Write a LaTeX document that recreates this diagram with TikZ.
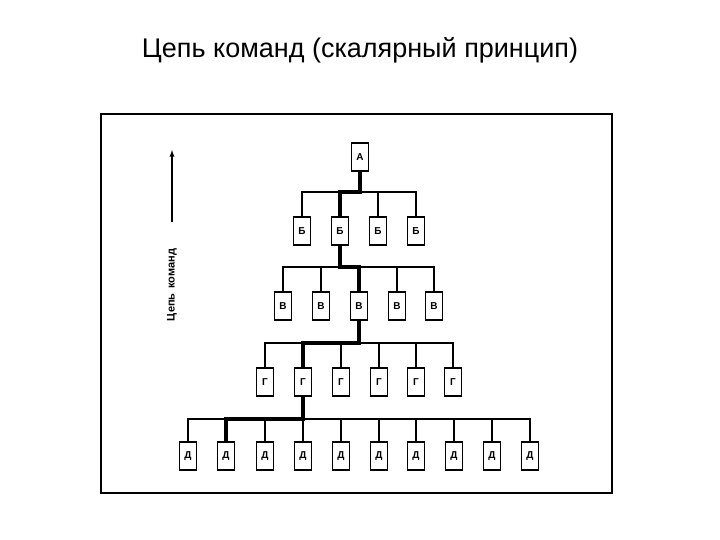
\documentclass[tikz,border=0pt]{standalone}
\usepackage{fontspec}
\setmainfont{Liberation Sans}
\begin{document}
\begin{tikzpicture}[x=1pt,y=-1pt,
  bx/.style={draw,line width=1.6pt,minimum width=17pt,minimum height=28pt,inner sep=0pt,font=\bfseries\fontsize{10}{11}\selectfont},
  ln/.style={line width=1.3pt},
  thk/.style={line width=3.5pt,line cap=rect}]
\useasboundingbox (0,0) rectangle (720,540);
\node (title) at (360,50) {\fontsize{27}{30}\selectfont Цепь команд (скалярный принцип)};
\draw[line width=1.5pt] (101,114) rectangle (612,493);
\node[bx] (a) at (360,157) {А};
\foreach \x [count=\i] in {302,340,378,416} \node[bx] (b\i) at (\x,231) {Б};
\foreach \x [count=\i] in {283,321,359,397,434} \node[bx] (v\i) at (\x,306) {В};
\foreach \x [count=\i] in {265,303,341,379,416,453} \node[bx] (g\i) at (\x,382) {Г};
\foreach \x [count=\i] in {188,226,265,303,341,379,416,454,492,530} \node[bx] (d\i) at (\x,456) {Д};
% buses
\draw[ln] (a.south) -- (360,192);
\draw[ln] (b1.north) |- (b4.north |- 0,192) -- (b4.north);
\foreach \i in {2,3} \draw[ln] (b\i.north) -- (b\i.north |- 0,192);
\draw[ln] (b2.south) -- (340,267);
\draw[ln] (v1.north) |- (v5.north |- 0,267) -- (v5.north);
\foreach \i in {2,3,4} \draw[ln] (v\i.north) -- (v\i.north |- 0,267);
\draw[ln] (v3.south) -- (359,343);
\draw[ln] (g1.north) |- (g6.north |- 0,343) -- (g6.north);
\foreach \i in {2,...,5} \draw[ln] (g\i.north) -- (g\i.north |- 0,343);
\draw[ln] (g2.south) -- (303,419);
\draw[ln] (d1.north) |- (d10.north |- 0,419) -- (d10.north);
\foreach \i in {2,...,9} \draw[ln] (d\i.north) -- (d\i.north |- 0,419);
% chain of command
\draw[thk] (a.south) -- (360,192) -| (b2.north);
\draw[thk] (b2.south) -- (340,267) -| (v3.north);
\draw[thk] (v3.south) -- (359,343) -| (g2.north);
\draw[thk] (g2.south) -- (303,419) -| (d2.north);
% side arrow
\coordinate (ab) at (172,222);
\coordinate (at) at (172,150);
\draw[line width=1.3pt,-latex] (ab) -- (at);
\node[rotate=90,font=\bfseries\fontsize{11}{12}\selectfont] (lab) at (172,285) {Цепь\, команд};
\end{tikzpicture}
\end{document}
